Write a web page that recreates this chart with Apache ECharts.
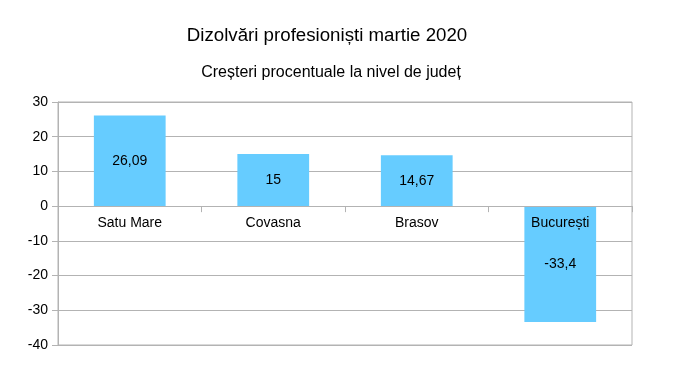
<!DOCTYPE html>
<html>
<head>
<meta charset="utf-8">
<script src="https://cdn.jsdelivr.net/npm/echarts@6/dist/echarts.min.js"></script>
<style>
html,body{margin:0;padding:0;background:#fff;}
#c{width:683px;height:390px;}
</style>
</head>
<body>
<div id="c"></div>
<script>
const categories = ['Satu Mare', 'Covasna', 'Brasov', 'București'];
const values = [26.09, 15, 14.67, -33.4];
const yTicks = { min: -40, max: 30, interval: 10 };
const titleText = 'Dizolvări profesioniști martie 2020';
const subtitleText = 'Creșteri procentuale la nivel de județ';

const FONT = '"Liberation Sans", Arial, sans-serif';
const GRAY = '#b3b3b3';
const GRID = { left: 58, right: 51, top: 102, bottom: 45 };
const plotH = 390 - GRID.top - GRID.bottom;
// distance from zero line to bottom of plot (so labels sit under the zero line)
const zeroToBottom = plotH * (0 - yTicks.min) / (yTicks.max - yTicks.min);

const chart = echarts.init(document.getElementById('c'), null, { renderer: 'canvas' });
chart.setOption({
  animation: false,
  backgroundColor: '#fff',
  textStyle: { fontFamily: FONT },
  graphic: [
    { type: 'text', x: 327, y: 36, style: { text: titleText, font: '18.7px ' + FONT, fill: '#000', textAlign: 'center', textVerticalAlign: 'middle' } },
    { type: 'text', x: 331, y: 73, style: { text: subtitleText, font: '16px ' + FONT, fill: '#000', textAlign: 'center', textVerticalAlign: 'middle' } }
  ],
  grid: Object.assign({ show: true, borderColor: GRAY, borderWidth: 1, backgroundColor: 'transparent' }, GRID),
  xAxis: {
    type: 'category',
    data: categories,
    z: 3,
    axisLine: { show: true, onZero: true, lineStyle: { color: GRAY, width: 1 } },
    axisTick: { show: true, length: 6, lineStyle: { color: GRAY } },
    axisLabel: { color: '#000', fontSize: 14, fontFamily: FONT, margin: 10 - zeroToBottom }
  },
  yAxis: {
    type: 'value',
    min: yTicks.min, max: yTicks.max, interval: yTicks.interval,
    axisLine: { show: true, lineStyle: { color: GRAY } },
    axisTick: { show: true, length: 6, lineStyle: { color: GRAY } },
    axisLabel: { color: '#000', fontSize: 14, fontFamily: FONT, margin: 10 },
    splitLine: { show: true, lineStyle: { color: GRAY, width: 1 } }
  },
  series: [{
    type: 'bar',
    data: values,
    barWidth: '50%',
    itemStyle: { color: '#66ccff' },
    label: {
      show: true, position: 'inside', color: '#000', fontSize: 14, fontFamily: FONT,
      formatter: p => String(p.value).replace('.', ',')
    }
  }]
});
</script>
</body>
</html>
